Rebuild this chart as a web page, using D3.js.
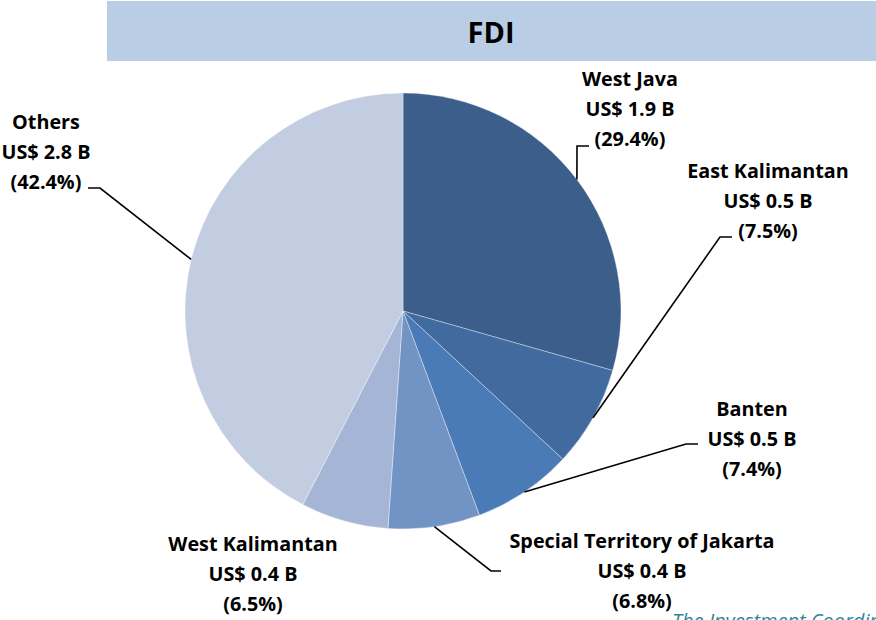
<!DOCTYPE html>
<html>
<head>
<meta charset="utf-8">
<script src="https://cdn.jsdelivr.net/npm/d3@7"></script>
<style>
  body { margin: 0; background: #fff; overflow: hidden; }
  text { font-family: "Open Sans", Lato, sans-serif; }
</style>
</head>
<body>
<svg id="chart"></svg>
<script>
// chart data
const regions = ['West Java', 'East Kalimantan', 'Banten', 'Special Territory of Jakarta', 'West Kalimantan', 'Others'];
const values = [1.9, 0.5, 0.5, 0.4, 0.4, 2.8];
const shares = [29.4, 7.5, 7.4, 6.8, 6.5, 42.4];
const sliceColors = ['#3b5e8b', '#416b9f', '#4a7bb6', '#7294c5', '#a4b5d5', '#c3cde2'];
const titleText = 'FDI';
const sourceText = 'The Investment Coordinating Board';

// label layout: text centre x, first baseline y, leader elbow points (null = no leader)
const labelPos = [
  {x: 630, y: 86, elbow: [[577, 146], [589, 146]]},
  {x: 768, y: 178, elbow: [[720, 237], [732, 237]]},
  {x: 752, y: 416, elbow: [[686, 444], [698, 444]]},
  {x: 642, y: 548, elbow: [[491, 571], [501, 571]]},
  {x: 253, y: 551, elbow: null},
  {x: 46, y: 129, elbow: [[100, 188], [88, 188]]}
];

class PieChart {
  constructor(_config) {
    this.config = {
      parentElement: _config.parentElement,
      containerWidth: _config.containerWidth || 876,
      containerHeight: _config.containerHeight || 620,
      cx: 403,
      cy: 311,
      radius: 218
    };
    this.data = regions.map((r, i) => ({region: r, value: values[i], share: shares[i], idx: i}));
    this.initVis();
  }

  initVis() {
    let vis = this;

    vis.svg = d3.select(vis.config.parentElement)
        .attr('width', vis.config.containerWidth)
        .attr('height', vis.config.containerHeight);

    // title bar
    vis.svg.append('rect')
        .attr('x', 107)
        .attr('y', 1)
        .attr('width', vis.config.containerWidth - 107)
        .attr('height', 60)
        .attr('fill', '#b9cde5');

    vis.svg.append('text')
        .attr('x', 491)
        .attr('y', 43)
        .attr('text-anchor', 'middle')
        .attr('font-size', 29)
        .attr('font-weight', 'bold')
        .attr('fill', '#000')
        .text(titleText);

    vis.chart = vis.svg.append('g')
        .attr('transform', `translate(${vis.config.cx},${vis.config.cy})`);

    vis.color = d3.scaleOrdinal()
        .domain(regions)
        .range(sliceColors);

    vis.pie = d3.pie()
        .sort(null)
        .value(d => d.share);

    vis.arc = d3.arc()
        .innerRadius(0)
        .outerRadius(vis.config.radius);

    vis.renderVis();
  }

  renderVis() {
    let vis = this;
    const arcs = vis.pie(vis.data);

    vis.chart.selectAll('.slice')
        .data(arcs)
        .join('path')
        .attr('class', 'slice')
        .attr('d', vis.arc)
        .attr('fill', d => vis.color(d.data.region))
        .attr('stroke', 'rgba(255,255,255,0.45)')
        .attr('stroke-width', 0.8);

    // leader lines: from outer edge at slice mid-angle to the elbow near the label
    const R = vis.config.radius;
    arcs.forEach(d => {
      const pos = labelPos[d.data.idx];
      if (!pos.elbow) return;
      const a = (d.startAngle + d.endAngle) / 2;
      const start = [vis.config.cx + R * Math.sin(a), vis.config.cy - R * Math.cos(a)];
      vis.svg.append('path')
          .attr('d', d3.line()([start, ...pos.elbow]))
          .attr('fill', 'none')
          .attr('stroke', '#000')
          .attr('stroke-width', 1.6);
    });

    // labels
    arcs.forEach(d => {
      const pos = labelPos[d.data.idx];
      const lines = [d.data.region, `US$ ${d3.format('.1f')(d.data.value)} B`, `(${d3.format('.1f')(d.data.share)}%)`];
      const t = vis.svg.append('text')
          .attr('text-anchor', 'middle')
          .attr('font-size', 19.8)
          .attr('font-weight', 'bold')
          .attr('fill', '#000');
      lines.forEach((l, i) => {
        t.append('tspan')
            .attr('x', pos.x)
            .attr('y', pos.y + i * 30)
            .text(l);
      });
    });

    // source note, clipped at the bottom edge as in the original
    vis.svg.append('text')
        .attr('x', 672)
        .attr('y', 628)
        .attr('font-size', 20)
        .attr('font-style', 'italic')
        .attr('fill', '#31849b')
        .text(sourceText);
  }
}

new PieChart({parentElement: '#chart'});
</script>
</body>
</html>
